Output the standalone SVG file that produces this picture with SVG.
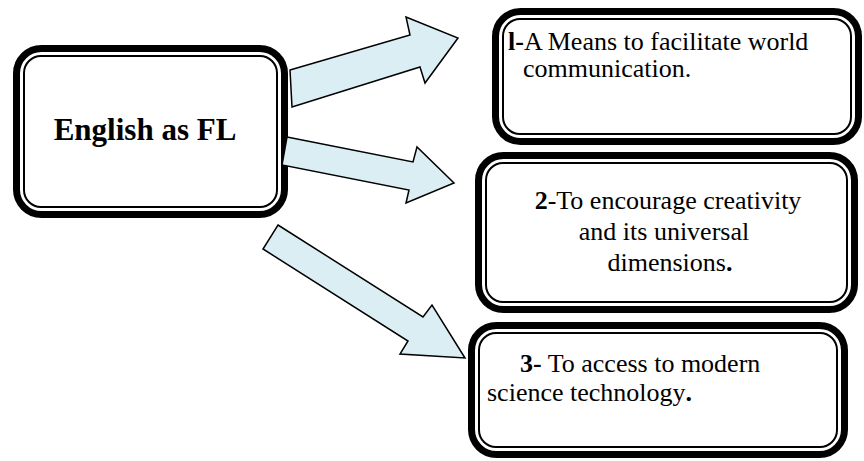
<svg xmlns="http://www.w3.org/2000/svg" width="864" height="461" viewBox="0 0 864 461">
<style>
.thick{fill:#fff;stroke:#000;stroke-width:7}
.thin{fill:none;stroke:#000;stroke-width:2}
text{font-size:26px;fill:#000}
.b{font-weight:bold}
.arrow{fill:#DAEEF3;stroke:#000;stroke-width:1.5;stroke-linejoin:miter}
</style>
<rect width="864" height="461" fill="#fff"/>
<g id="node-english">
<rect class="thick" x="16.5" y="48.5" width="268" height="166" rx="25"/>
<rect class="thin" x="24" y="56" width="253" height="151" rx="17"/>
<text font-family="'Liberation Serif', 'DejaVu Serif', serif" font-weight="bold" font-size="31" x="145" y="140" text-anchor="middle" style="font-size:31px">English as FL</text>
</g>
<g id="node-1" font-family="'Liberation Serif', 'DejaVu Serif', serif">
<rect class="thick" x="495.5" y="11.5" width="363" height="130" rx="25"/>
<rect class="thin" x="503" y="19" width="348" height="115" rx="17"/>
<text font-family="'Liberation Serif', 'DejaVu Serif', serif" x="508" y="50"><tspan class="b">l-</tspan>A Means to facilitate world</text>
<text font-family="'Liberation Serif', 'DejaVu Serif', serif" x="523" y="77">communication.</text>
</g>
<g id="node-2">
<rect class="thick" x="478.5" y="155.5" width="376" height="154" rx="25"/>
<rect class="thin" x="486" y="163" width="361" height="139" rx="17"/>
<text font-family="'Liberation Serif', 'DejaVu Serif', serif" x="668" y="209" text-anchor="middle"><tspan class="b">2</tspan>-To encourage creativity</text>
<text font-family="'Liberation Serif', 'DejaVu Serif', serif" x="664" y="240" text-anchor="middle">and its universal</text>
<text font-family="'Liberation Serif', 'DejaVu Serif', serif" x="670" y="271" text-anchor="middle">dimensions<tspan class="b">.</tspan></text>
</g>
<g id="node-3">
<rect class="thick" x="471.5" y="325.5" width="373" height="129" rx="25"/>
<rect class="thin" x="479" y="333" width="358" height="114" rx="17"/>
<text font-family="'Liberation Serif', 'DejaVu Serif', serif" x="520" y="372"><tspan class="b">3-</tspan> To access to modern</text>
<text font-family="'Liberation Serif', 'DejaVu Serif', serif" x="487" y="401">science technology<tspan class="b">.</tspan></text>
</g>
<g id="connectors">
<polygon class="arrow" points="290,70 410,35 406,17 458,38 425,83 420,67 292,107"/>
<polygon class="arrow" points="287,137 413,162 417,147 454,183 406,203 409,190 282,165"/>
<polygon class="arrow" points="278,225 423,317 432,305 465,358 400,354 408,341 263,249"/>
</g>
</svg>
